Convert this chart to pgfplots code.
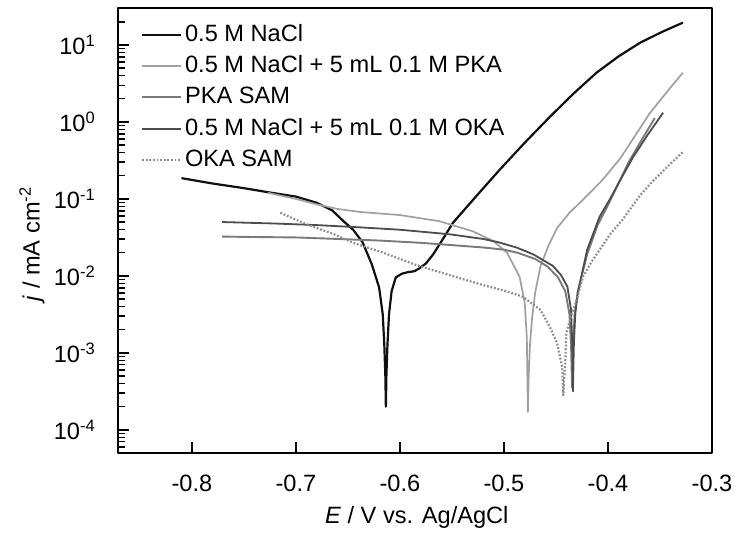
\documentclass[border=0pt]{standalone}
\usepackage{pgfplots}
\pgfplotsset{compat=1.18}
\usepackage{fontspec}
\setmainfont{Liberation Sans}
\definecolor{cblack}{HTML}{101010}
\definecolor{clight}{HTML}{A0A0A0}
\definecolor{cmed}{HTML}{7A7A7A}
\definecolor{cdark}{HTML}{4C4C4C}
\definecolor{cdot}{HTML}{8C8C8C}
\begin{document}
\fontsize{11.8}{14}\selectfont
\begin{tikzpicture}
\begin{axis}[
  scale only axis,
  width=297pt, height=222.5pt,
  ymode=log, log basis y=10,
  xmin=-0.871, xmax=-0.3,
  ymin=5e-5, ymax=30.2,
  axis line style={line width=0.75pt, black},
  xtick={-0.8,-0.7,-0.6,-0.5,-0.4,-0.3},
  xticklabels={-0.8,-0.7,-0.6,-0.5,-0.4,-0.3},
  ytick={1e-4,1e-3,1e-2,1e-1,1,10},
  yticklabels={10\textsuperscript{-4},10\textsuperscript{-3},10\textsuperscript{-2},10\textsuperscript{-1},10\textsuperscript{0},10\textsuperscript{1}},
  minor ytick={6e-5,7e-5,8e-5,9e-5,2e-4,3e-4,4e-4,5e-4,6e-4,7e-4,8e-4,9e-4,2e-3,3e-3,4e-3,5e-3,6e-3,7e-3,8e-3,9e-3,0.02,0.03,0.04,0.05,0.06,0.07,0.08,0.09,0.2,0.3,0.4,0.5,0.6,0.7,0.8,0.9,2,3,4,5,6,7,8,9,20,30},
  tick align=inside,
  xtick pos=bottom, ytick pos=left,
  major tick length=5.5pt, minor tick length=3.5pt,
  every tick/.style={black, line width=0.7pt},
  xticklabel style={yshift=-7pt},
  yticklabel style={xshift=-7pt},
  xlabel={\textit{E} / V vs. Ag/AgCl},
  ylabel={\textit{j} / mA cm\textsuperscript{-2}},
  xlabel style={at={(axis description cs:0.503,-0.144)}, anchor=center},
  ylabel style={at={(axis description cs:-0.145,0.47)}, anchor=center},
  legend style={at={(0.035,0.975)}, anchor=north west, draw=none, fill=none,
    row sep=2.1pt, inner sep=1pt,
    nodes={inner sep=1.5pt, text height=8.5pt, text depth=2pt}},
  legend cell align=left,
  legend image code/.code={\draw[#1] (0cm,0cm) -- (0.68cm,0cm);},
  line join=round,
]
\addplot[cblack, line width=1.1pt] coordinates {
(-0.810,0.1862) (-0.78,0.1585) (-0.75,0.1380) (-0.728,0.1230) (-0.70,0.1072)
(-0.68,0.0891) (-0.665,0.0708) (-0.655,0.0525) (-0.645,0.0398) (-0.636,0.0275)
(-0.627,0.0141) (-0.620,0.00708) (-0.6165,0.00316) (-0.615,0.00126) (-0.614,0.000501)
(-0.6135,0.000200) (-0.613,0.000501) (-0.612,0.00126) (-0.6105,0.00316) (-0.608,0.00631)
(-0.604,0.00955) (-0.598,0.0107) (-0.592,0.0112) (-0.586,0.0115) (-0.581,0.0126)
(-0.575,0.0145) (-0.568,0.0191) (-0.560,0.0282) (-0.549,0.0490) (-0.527,0.1072)
(-0.504,0.240) (-0.480,0.537) (-0.456,1.161) (-0.433,2.344) (-0.411,4.365)
(-0.390,7.079) (-0.369,10.72) (-0.348,14.79) (-0.328,19.50)
};
\addlegendentry{0.5 M NaCl}
\addplot[clight, line width=0.85pt] coordinates {
(-0.727,0.1202) (-0.70,0.100) (-0.68,0.0851) (-0.66,0.0741) (-0.638,0.0676)
(-0.60,0.0617) (-0.562,0.0513) (-0.53,0.0380) (-0.51,0.0282) (-0.497,0.0200)
(-0.485,0.00977) (-0.480,0.00447) (-0.478,0.00158) (-0.4775,0.000501) (-0.477,0.000170)
(-0.4762,0.000501) (-0.4750,0.00126) (-0.473,0.00282) (-0.470,0.00603) (-0.465,0.0132)
(-0.457,0.0251) (-0.449,0.0417) (-0.437,0.0661) (-0.424,0.0977) (-0.405,0.178)
(-0.388,0.339) (-0.374,0.661) (-0.360,1.288) (-0.344,2.399) (-0.328,4.365)
};
\addlegendentry{0.5 M NaCl + 5 mL 0.1 M PKA}
\addplot[cmed, line width=0.95pt] coordinates {
(-0.771,0.0324) (-0.74,0.0320) (-0.70,0.0316) (-0.66,0.0302) (-0.62,0.0288)
(-0.58,0.0269) (-0.55,0.0251) (-0.52,0.0234) (-0.50,0.0219) (-0.487,0.0200)
(-0.470,0.0166) (-0.458,0.0132) (-0.448,0.00955) (-0.441,0.00631) (-0.437,0.00316)
(-0.4355,0.00126) (-0.4345,0.000355) (-0.4335,0.00126) (-0.432,0.00316) (-0.429,0.00631)
(-0.420,0.0191) (-0.410,0.0457) (-0.400,0.0832) (-0.390,0.158) (-0.380,0.302)
(-0.367,0.603) (-0.355,1.122)
};
\addlegendentry{PKA SAM}
\addplot[cdark, line width=0.9pt] coordinates {
(-0.771,0.0501) (-0.72,0.0479) (-0.68,0.0457) (-0.638,0.0427) (-0.60,0.0398)
(-0.552,0.0347) (-0.52,0.0302) (-0.506,0.0275) (-0.488,0.0234) (-0.472,0.0191)
(-0.453,0.0135) (-0.445,0.0102) (-0.439,0.00724) (-0.4355,0.00363) (-0.4343,0.00126)
(-0.4337,0.000316) (-0.4328,0.00126) (-0.4315,0.00316) (-0.429,0.00603) (-0.420,0.0219)
(-0.408,0.0589) (-0.398,0.100) (-0.388,0.178) (-0.376,0.347) (-0.362,0.676)
(-0.347,1.318)
};
\addlegendentry{0.5 M NaCl + 5 mL 0.1 M OKA}
\addplot[cdot, line width=1.1pt, dash pattern=on 0.9pt off 0.9pt] coordinates {
(-0.715,0.0661) (-0.69,0.0468) (-0.665,0.0355) (-0.645,0.0269) (-0.616,0.0200)
(-0.584,0.0138) (-0.552,0.0102) (-0.52,0.00759) (-0.50,0.00646) (-0.482,0.00537)
(-0.465,0.00363) (-0.456,0.00219) (-0.449,0.00135) (-0.444,0.000661) (-0.443,0.000282)
(-0.441,0.000794) (-0.440,0.00182) (-0.435,0.00316) (-0.430,0.0049) (-0.424,0.00977)
(-0.416,0.0151) (-0.408,0.0219) (-0.398,0.0347) (-0.386,0.0537) (-0.369,0.112)
(-0.357,0.170) (-0.342,0.269) (-0.328,0.407)
};
\addlegendentry{OKA SAM}
\end{axis}
\pgfresetboundingbox
\path (-59pt,-42.5pt) rectangle (310pt,226.5pt);
\end{tikzpicture}
\end{document}
